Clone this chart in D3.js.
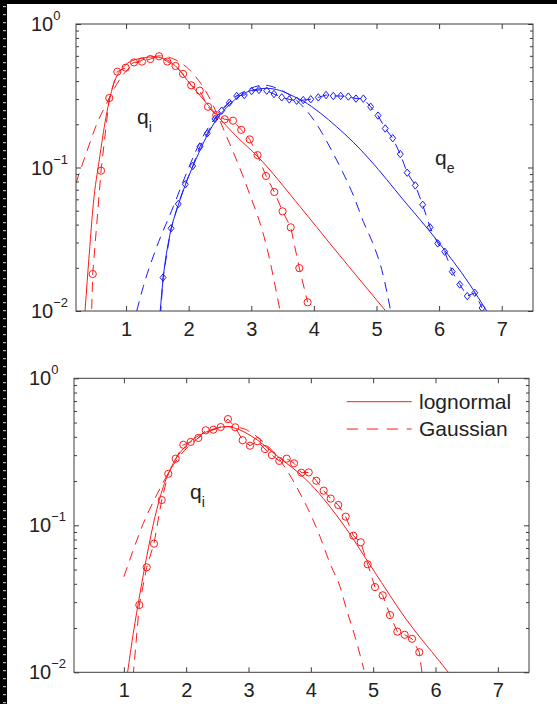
<!DOCTYPE html>
<html>
<head>
<meta charset="utf-8">
<script src="https://cdn.jsdelivr.net/npm/d3@7"></script>
<style>
  body { margin: 0; background: #fff; }
  svg text { font-family: "Liberation Sans", Arial, Helvetica, sans-serif; fill: #222; }
</style>
</head>
<body>
<div id="chart"></div>
<script>
// svg size
let svgWidth = 557;
let svgHeight = 704;

// axis values
let xDomain = [0.2, 7.5];
let yDomain = [0.01, 1];
let xTicks = [1, 2, 3, 4, 5, 6, 7];
let yMajor = [0.01, 0.1, 1];
let yExponents = ['\u22122', '\u22121', '0'];

// top panel, q_i data (circles) and fits
let topQiData = [[0.435,0.006],[0.467,0.0181],[0.60,0.095],[0.732,0.305],[0.86,0.465],[0.994,0.496],[1.127,0.54],
  [1.254,0.547],[1.387,0.57],[1.526,0.596],[1.658,0.547],[1.79,0.51],[1.91,0.449],[2.04,0.374],[2.176,0.343],
  [2.309,0.265],[2.44,0.232],[2.575,0.217],[2.708,0.212],[2.84,0.183],[2.975,0.157],[3.10,0.122],[3.235,0.0873],
  [3.368,0.0675],[3.50,0.0495],[3.63,0.0383],[3.767,0.0199],[3.90,0.0115]];
let topQiLogn = [[0.344,0.01],[0.413,0.0254],[0.477,0.056],[0.572,0.113],[0.68,0.226],[0.796,0.376],[0.956,0.50],
  [1.15,0.565],[1.435,0.59],[1.6,0.575],[1.79,0.51],[2.04,0.374],[2.18,0.318],[2.447,0.232],[2.75,0.167],
  [3.10,0.1195],[3.78,0.0533],[4.3,0.028],[5.14,0.0101]];
let topQiGauss = [[0.2,0.078],[0.37,0.128],[0.53,0.2],[0.69,0.28],[0.85,0.38],[1.06,0.5],[1.3,0.57],[1.55,0.6],
  [1.8,0.56],[2.0,0.485],[2.29,0.33],[2.607,0.164],[2.93,0.0735],[3.246,0.028],[3.46,0.01]];

// top panel, q_e data (diamonds) and fits
let topQeData = [[1.53,0.007],[1.59,0.0171],[1.718,0.0377],[1.834,0.0557],[1.946,0.0764],[2.064,0.1024],[2.18,0.1396],
  [2.297,0.173],[2.42,0.218],[2.527,0.249],[2.649,0.283],[2.767,0.315],[2.888,0.32],[3.006,0.341],[3.123,0.347],
  [3.246,0.343],[3.363,0.325],[3.486,0.308],[3.607,0.298],[3.725,0.292],[3.83,0.295],[3.95,0.299],[4.07,0.308],
  [4.194,0.32],[4.31,0.315],[4.428,0.315],[4.55,0.312],[4.673,0.302],[4.79,0.302],[4.907,0.265],[5.024,0.23],
  [5.14,0.187],[5.259,0.16],[5.38,0.124],[5.49,0.092],[5.62,0.075],[5.738,0.055],[5.855,0.0383],[5.978,0.0296],
  [6.09,0.0259],[6.21,0.0188],[6.33,0.0153],[6.45,0.0127],[6.57,0.0134],[6.686,0.0105]];
let topQeLogn = [[1.545,0.01],[1.59,0.0165],[1.70,0.034],[1.83,0.054],[1.968,0.08],[2.12,0.115],[2.288,0.165],
  [2.45,0.218],[2.607,0.262],[2.77,0.305],[2.927,0.335],[3.1,0.352],[3.246,0.356],[3.45,0.345],[3.67,0.314],
  [3.83,0.29],[4.1,0.24],[4.365,0.192],[4.63,0.15],[4.896,0.113],[5.43,0.0594],[5.96,0.0313],[6.494,0.0152],[6.76,0.01]];
let topQeGauss = [[1.17,0.01],[1.275,0.0148],[1.49,0.028],[1.754,0.0533],[1.968,0.092],[2.2,0.156],[2.45,0.229],
  [2.7,0.30],[2.95,0.35],[3.2,0.375],[3.45,0.35],[3.7,0.30],[3.95,0.229],[4.1,0.183],[4.285,0.131],[4.444,0.096],
  [4.63,0.064],[4.79,0.042],[4.95,0.029],[5.083,0.0195],[5.227,0.01]];

// bottom panel, q_i data and fits
let botQiData = [[1.10,0.0055],[1.248,0.0287],[1.366,0.0518],[1.483,0.075],[1.607,0.1486],[1.713,0.224],[1.832,0.284],
  [1.954,0.353],[2.072,0.369],[2.194,0.393],[2.313,0.443],[2.435,0.447],[2.554,0.466],[2.67,0.528],[2.787,0.464],
  [2.906,0.379],[3.024,0.348],[3.14,0.373],[3.264,0.33],[3.376,0.30],[3.494,0.274],[3.612,0.284],[3.73,0.264],
  [3.847,0.228],[3.966,0.229],[4.088,0.201],[4.206,0.172],[4.318,0.152],[4.44,0.1375],[4.559,0.1145],[4.681,0.085],
  [4.8,0.0766],[4.912,0.0543],[5.029,0.038],[5.153,0.0334],[5.27,0.0245],[5.387,0.0189],[5.505,0.018],
  [5.623,0.0169],[5.74,0.0137],[5.82,0.0075]];
let botQiLogn = [[1.06,0.01],[1.151,0.0184],[1.259,0.0345],[1.366,0.061],[1.5,0.1145],[1.633,0.183],[1.793,0.264],
  [2.008,0.352],[2.329,0.433],[2.65,0.469],[2.863,0.445],[3.024,0.41],[3.505,0.286],[3.933,0.203],[4.468,0.1087],
  [5.002,0.0497],[5.537,0.0227],[6.07,0.0118],[6.205,0.01]];
let botQiGauss = [[1.0,0.0447],[1.151,0.068],[1.312,0.103],[1.527,0.161],[1.8,0.26],[2.22,0.40],[2.45,0.45],
  [2.7,0.47],[2.95,0.45],[3.05,0.425],[3.612,0.238],[3.826,0.165],[3.986,0.121],[4.147,0.0837],[4.307,0.055],
  [4.468,0.0382],[4.575,0.0265],[4.708,0.0175],[4.852,0.0104]];

let legendNames = ['lognormal', 'Gaussian'];

let red = '#ff1a1a';
let blue = '#1a1aff';
let axisColor = '#3c3c3c';

// panel boxes
let panels = [
  { left: 76, right: 533, top: 24, bottom: 311,
    series: [
      { data: topQiGauss, color: red, dash: '10,7' },
      { data: topQiLogn, color: red, smooth: true },
      { data: topQiData, color: red, dash: '10,7', marker: 'circle', raw: true },
      { data: topQeGauss, color: blue, dash: '10,7', smooth: true },
      { data: topQeLogn, color: blue, smooth: true },
      { data: topQeData, color: blue, dash: '10,7', marker: 'diamond', raw: true }
    ],
    labels: [{ x: 137, y: 124, main: 'q', sub: 'i' }, { x: 435, y: 165, main: 'q', sub: 'e' }],
    legend: false },
  { left: 74, right: 529, top: 378.3, bottom: 672.3,
    series: [
      { data: botQiGauss, color: red, dash: '10,7', smooth: true },
      { data: botQiLogn, color: red, smooth: true },
      { data: botQiData, color: red, dash: '10,7', marker: 'circle', raw: true }
    ],
    labels: [{ x: 190, y: 499, main: 'q', sub: 'i' }],
    legend: true }
];
panels[0].series[0].smooth = true;

let svg = d3.select('#chart').append('svg')
  .attr('width', svgWidth)
  .attr('height', svgHeight);

// black frame on top and left side
svg.append('rect').attr('x', 0).attr('y', 0).attr('width', svgWidth).attr('height', 4).attr('fill', '#000');
svg.append('rect').attr('x', 0).attr('y', 0).attr('width', 7).attr('height', svgHeight).attr('fill', '#000');
svg.append('g').selectAll('rect')
  .data(d3.range(6, svgHeight, 8))
  .enter().append('rect')
  .attr('x', 3).attr('y', d => d).attr('width', 3).attr('height', 1.2)
  .attr('fill', '#bbb');

function diamondPath(r) {
  return `M0,${-r}L${r * 0.8},0L0,${r}L${-r * 0.8},0Z`;
}

panels.forEach(function(p, i) {
  let x = d3.scaleLinear().domain(xDomain).range([p.left, p.right]);
  let y = d3.scaleLog().domain(yDomain).range([p.bottom, p.top]);

  // minor y ticks
  let yMinor = [];
  [0.01, 0.1].forEach(dec => { for (let k = 2; k <= 9; k++) yMinor.push(dec * k); });

  let g = svg.append('g');

  // clip to the axes box
  g.append('clipPath').attr('id', 'clip' + i)
    .append('rect')
    .attr('x', p.left).attr('y', p.top)
    .attr('width', p.right - p.left).attr('height', p.bottom - p.top);

  let plot = g.append('g').attr('clip-path', `url(#clip${i})`);

  p.series.forEach(function(s) {
    let line = d3.line()
      .x(d => x(d[0]))
      .y(d => y(d[1]))
      .curve(s.smooth ? d3.curveMonotoneX : d3.curveLinear);

    plot.append('path')
      .attr('d', line(s.data))
      .attr('fill', 'none')
      .attr('stroke', s.color)
      .attr('stroke-width', 1)
      .attr('stroke-dasharray', s.dash || null);

    if (s.marker === 'circle') {
      plot.selectAll(null).data(s.data).enter().append('circle')
        .attr('cx', d => x(d[0]))
        .attr('cy', d => y(d[1]))
        .attr('r', 3.6)
        .attr('fill', 'none')
        .attr('stroke', s.color)
        .attr('stroke-width', 1);
    } else if (s.marker === 'diamond') {
      plot.selectAll(null).data(s.data).enter().append('path')
        .attr('d', diamondPath(3.7))
        .attr('transform', d => `translate(${x(d[0])},${y(d[1])})`)
        .attr('fill', 'none')
        .attr('stroke', s.color)
        .attr('stroke-width', 1);
    }
  });

  // axes: ticks pointing inward
  let bottomAxis = g.append('g')
    .attr('transform', `translate(0,${p.bottom})`)
    .call(d3.axisBottom(x).tickValues(xTicks).tickSize(-5).tickSizeOuter(0).tickPadding(11).tickFormat(d3.format('d')));
  bottomAxis.selectAll('text').attr('font-size', '20px');

  g.append('g')
    .attr('transform', `translate(0,${p.top})`)
    .call(d3.axisTop(x).tickValues(xTicks).tickSize(-5).tickSizeOuter(0).tickFormat(''));

  let leftAxis = g.append('g')
    .attr('transform', `translate(${p.left},0)`)
    .call(d3.axisLeft(y).tickValues(yMajor).tickSize(-5).tickSizeOuter(0).tickFormat(''));
  g.append('g')
    .attr('transform', `translate(${p.left},0)`)
    .call(d3.axisLeft(y).tickValues(yMinor).tickSize(-3).tickSizeOuter(0).tickFormat(''));
  g.append('g')
    .attr('transform', `translate(${p.right},0)`)
    .call(d3.axisRight(y).tickValues(yMajor).tickSize(-5).tickSizeOuter(0).tickFormat(''));
  g.append('g')
    .attr('transform', `translate(${p.right},0)`)
    .call(d3.axisRight(y).tickValues(yMinor).tickSize(-3).tickSizeOuter(0).tickFormat(''));

  g.selectAll('.domain').remove();
  g.selectAll('.tick line').attr('stroke', axisColor);

  g.append('rect')
    .attr('x', p.left).attr('y', p.top)
    .attr('width', p.right - p.left).attr('height', p.bottom - p.top)
    .attr('fill', 'none')
    .attr('stroke', axisColor)
    .attr('stroke-width', 1);

  // y tick labels 10^n
  yMajor.forEach(function(v, j) {
    let t = g.append('text')
      .attr('x', p.left - 45)
      .attr('y', y(v) + 7)
      .attr('font-size', '20px')
      .text('10');
    t.append('tspan')
      .attr('dy', -11)
      .attr('font-size', '13px')
      .text(yExponents[j]);
  });

  // curve names
  p.labels.forEach(function(l) {
    let t = g.append('text')
      .attr('x', l.x).attr('y', l.y)
      .attr('font-size', '21px')
      .text(l.main);
    t.append('tspan')
      .attr('dy', 8)
      .attr('font-size', '14px')
      .text(l.sub);
  });

  if (p.legend) {
    let lg = g.append('g');
    legendNames.forEach(function(name, j) {
      let ly = 401.7 + j * 27.3;
      lg.append('line')
        .attr('x1', 346.7).attr('x2', 411.7)
        .attr('y1', ly).attr('y2', ly)
        .attr('stroke', red)
        .attr('stroke-width', 1)
        .attr('stroke-dasharray', j === 1 ? '11.5,8.5' : null);
      lg.append('text')
        .attr('x', 419).attr('y', ly + 7.3)
        .attr('font-size', '21px')
        .text(name);
    });
  }
});
</script>
</body>
</html>
